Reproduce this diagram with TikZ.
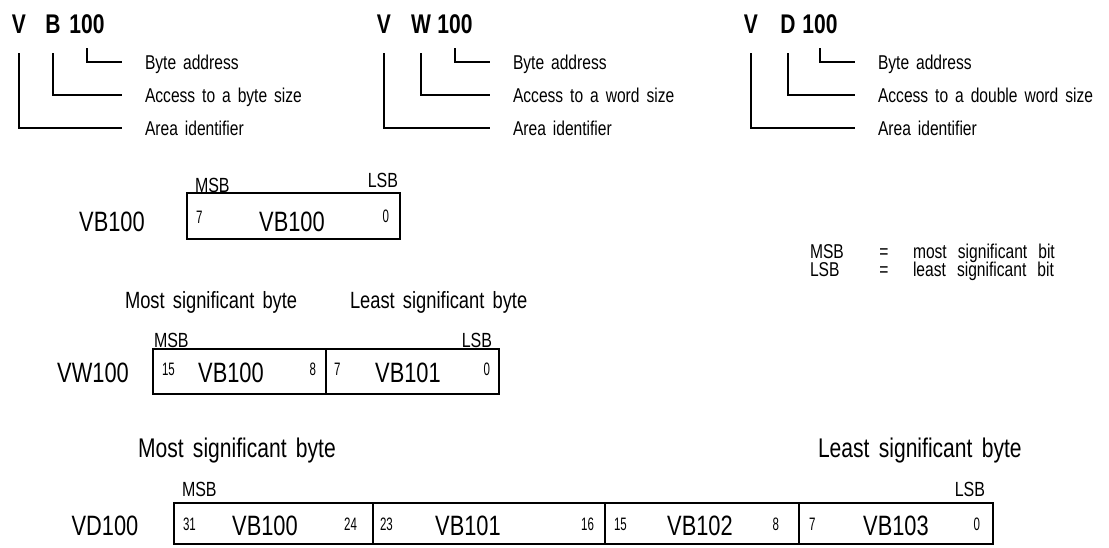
\documentclass[tikz,border=0pt]{standalone}
\usepackage{fontspec}
\setmainfont{Liberation Sans}
\newfontfamily\cf[FakeStretch=0.78]{Liberation Sans}
\newfontfamily\cfn[FakeStretch=0.64]{Liberation Sans}
\newfontfamily\cfw[FakeStretch=0.78,WordSpace=1.6]{Liberation Sans}
\newcommand\fsz[1]{\fontsize{#1}{#1}\selectfont}
\begin{document}
\begin{tikzpicture}[x=1pt,y=-1pt,
  every node/.style={inner sep=0pt, outer sep=0pt},
  tok/.style={font=\cf\bfseries\fsz{27}, anchor=base},
  lab/.style={font=\cfw\fsz{20}, anchor=base west},
  big/.style={font=\cf\fsz{28}, anchor=base},
  hdr/.style={font=\cf\fsz{#1}, anchor=base west},
  sbw/.style={font=\cf\fsz{20.5}, anchor=base west},
  sbe/.style={font=\cf\fsz{20.5}, anchor=base east},
  bnw/.style={font=\cfn\fsz{18}, anchor=base west},
  bne/.style={font=\cfn\fsz{18}, anchor=base east},
  cell/.style={draw, line width=1.3pt, anchor=north west},
  conn/.style={line width=1.3pt}]
\fill[white] (0,0) rectangle (1109,547);
\useasboundingbox (0,0) rectangle (1109,547);

% ---------- top: V B 100 ----------
\foreach \g/\vx/\lx/\mx/\mid/\lbx/\acc in {
  1/19/53/87/B/145/byte,
  2/384/421/455/W/513/word,
  3/751/788/820/D/878/double word}{
  \node[tok] (V\g) at (\vx,33) {V};
  \node[tok] (M\g) at (\lx,33) {\mid};
  \node[tok] (N\g) at (\mx,33) {100};
  \node[lab] (Lb\g) at (\lbx,69) {Byte address};
  \node[lab] (La\g) at (\lbx,102) {Access to a \acc\ size};
  \node[lab] (Lr\g) at (\lbx,135) {Area identifier};
  \draw[conn] (N\g.south) ++(0,15) |- ([xshift=-23pt,yshift=7pt]Lb\g.base west);
  \draw[conn] (M\g.south) ++(0,20) |- ([xshift=-23pt,yshift=7pt]La\g.base west);
  \draw[conn] (V\g.south) ++(0,20) |- ([xshift=-23pt,yshift=7pt]Lr\g.base west);
}

% ---------- legend ----------
\node[lab] (lm) at (810,258) {MSB};
\node[font=\cf\fsz{20}, anchor=base] (lme) at (884,258) {=};
\node[lab] (lmt) at (913,258) {most significant bit};
\node[lab] (ll) at (810,276) {LSB};
\node[font=\cf\fsz{20}, anchor=base] (lle) at (884,276) {=};
\node[lab] (llt) at (913,276) {least significant bit};

% ---------- row 1: VB100 ----------
\node[big] (r1) at (112,231) {VB100};
\node[cell, minimum width=213pt, minimum height=46pt] (c11) at (187,193) {};
\node[sbw] (m1) at (195,192) {MSB};
\node[sbe] (s1) at (398,187) {LSB};
\node[bnw] (b17) at (196,223) {7};
\node[big] (t11) at (292,231) {VB100};
\node[bne] (b10) at (389,222) {0};

% ---------- row 2: VW100 ----------
\node[hdr=23.5] (h21) at (125,308) {Most significant byte};
\node[hdr=23.5] (h22) at (350,308) {Least significant byte};
\node[big] (r2) at (93,382) {VW100};
\node[cell, minimum width=173pt, minimum height=45pt] (c21) at (153,349) {};
\node[cell, minimum width=173pt, minimum height=45pt] (c22) at (326,349) {};
\node[sbw] (m2) at (154,347) {MSB};
\node[sbe] (s2) at (492,347) {LSB};
\node[bnw] (b215) at (162,375) {15};
\node[big] (t21) at (231,382) {VB100};
\node[bne] (b28) at (316,375) {8};
\node[bnw] (b27) at (334,375) {7};
\node[big] (t22) at (408,382) {VB101};
\node[bne] (b20) at (490,375) {0};

% ---------- row 3: VD100 ----------
\node[hdr=27] (h31) at (138,457) {Most significant byte};
\node[hdr=27] (h32) at (818,457) {Least significant byte};
\node[big] (r3) at (105,535) {VD100};
\node[cell, minimum width=199pt, minimum height=41pt] (c31) at (174,503) {};
\node[cell, minimum width=232pt, minimum height=41pt] (c32) at (373,503) {};
\node[cell, minimum width=194pt, minimum height=41pt] (c33) at (605,503) {};
\node[cell, minimum width=194pt, minimum height=41pt] (c34) at (799,503) {};
\node[sbw] (m3) at (182,496) {MSB};
\node[sbe] (s3) at (985,496) {LSB};
\node[bnw] (b331) at (183,530) {31};
\node[big] (t31) at (265,535) {VB100};
\node[bne] (b324) at (357,530) {24};
\node[bnw] (b323) at (380,530) {23};
\node[big] (t32) at (468,535) {VB101};
\node[bne] (b316) at (594,530) {16};
\node[bnw] (b315) at (614,530) {15};
\node[big] (t33) at (700,535) {VB102};
\node[bne] (b38) at (779,530) {8};
\node[bnw] (b37) at (809,530) {7};
\node[big] (t34) at (896,535) {VB103};
\node[bne] (b30) at (980,530) {0};
\end{tikzpicture}
\end{document}
